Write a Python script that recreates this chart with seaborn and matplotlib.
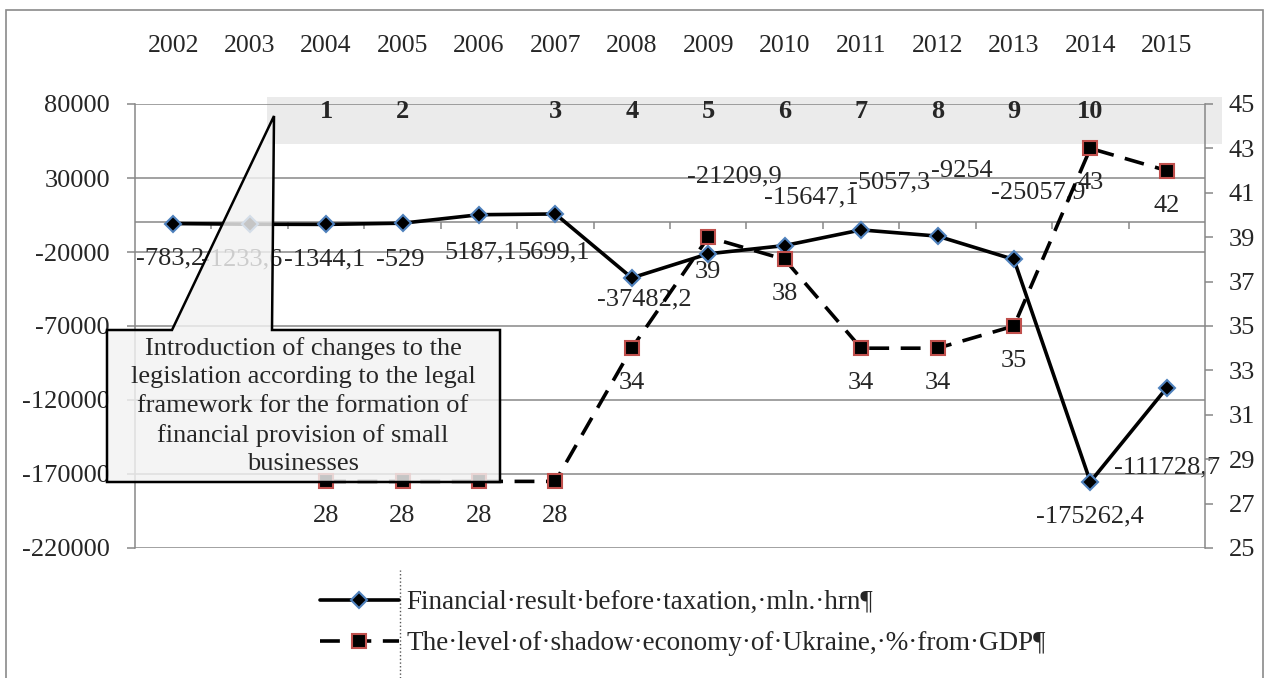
import numpy as np
import pandas as pd
import matplotlib
matplotlib.use("Agg")
import matplotlib.pyplot as plt
import matplotlib.transforms as mtransforms
from matplotlib.patches import Rectangle, Polygon
from matplotlib.lines import Line2D
import seaborn as sns

# ---------------- data ----------------
years = ["2002", "2003", "2004", "2005", "2006", "2007", "2008",
         "2009", "2010", "2011", "2012", "2013", "2014", "2015"]
financial_result = [-783.2, -1233.6, -1344.1, -529, 5187.1, 5699.1, -37482.2,
                    -21209.9, -15647.1, -5057.3, -9254, -25057.9, -175262.4, -111728.7]
shadow_economy = [None, None, 28, 28, 28, 28, 34, 39, 38, 34, 34, 35, 43, 42]
left_ticks = [80000, 30000, -20000, -70000, -120000, -170000, -220000]
right_ticks = [25, 27, 29, 31, 33, 35, 37, 39, 41, 43, 45]
period_years = ["2004", "2005", "2007", "2008", "2009", "2010", "2011", "2012", "2013", "2014"]
period_numbers = ["1", "2", "3", "4", "5", "6", "7", "8", "9", "10"]
callout_text = ("Introduction of changes to the\nlegislation according to the legal\n"
                "framework for the formation of\nfinancial provision of small\nbusinesses")
legend_labels = ["Financial\u00b7result\u00b7before\u00b7taxation,\u00b7mln.\u00b7hrn\u00b6",
                 "The\u00b7level\u00b7of\u00b7shadow\u00b7economy\u00b7of\u00b7Ukraine,\u00b7%\u00b7from\u00b7GDP\u00b6"]

# label offsets (pixels, x right / y down) -- styling only
fin_label_offsets = [(-3, 35), (-8, 35), (-1, 35), (-2, 37), (2, 38), (-2, 38), (13, 22),
                     (26, -77), (27, -48), (28, -47), (24, -65), (24, -67), (0, 35), (0, 80)]
shadow_label_offsets = [(0, 35)] * len(years)


def fmt(v):
    if float(v).is_integer():
        return str(int(v))
    return f"{v:.1f}".replace(".", ",")


# ---------------- style ----------------
sns.set_style("white")
plt.rcParams["font.family"] = ["Liberation Serif", "DejaVu Serif"]

W, H = 1269, 678
GRAY = "#878787"
fig = plt.figure(figsize=(W / 100, H / 100), dpi=100)
ax = fig.add_axes([135 / W, (H - 548) / H, (1205 - 135) / W, (548 - 104) / H])
ax2 = ax.twinx()

n = len(years)
df = pd.DataFrame({"pos": np.arange(n), "year": years,
                   "fin": financial_result,
                   "shadow": pd.array(shadow_economy, dtype="Float64").astype(float)})

sns.lineplot(data=df, x="pos", y="fin", ax=ax, color="black", lw=2.6,
             marker="D", ms=8, mfc="black", mec="#4F81BD", mew=1.5, zorder=3, legend=False)
fin_line = ax.lines[-1]

df_sh = df.dropna(subset=["shadow"])
sns.lineplot(data=df_sh, x="pos", y="shadow", ax=ax2, color="black", lw=2.6,
             marker="s", ms=10.5, mfc="black", mec="#C0504D", mew=1.5, zorder=3, legend=False)
sh_line = ax2.lines[-1]
sh_line.set_linestyle((0, (5.5, 3.2)))

# axes ranges
ax.set_xlim(-0.5, n - 0.5)
ax.set_ylim(-220000, 80000)
ax.set_yticks(left_ticks)
ax.set_yticklabels([str(t) for t in left_ticks])
ax2.set_ylim(25, 45)
ax2.set_yticks(right_ticks)
ax2.set_yticklabels([str(t) for t in right_ticks])

ax.set_xticks(np.arange(n))
ax.set_xticklabels(years)
ax.xaxis.set_ticks_position("top")
ax.tick_params(axis="x", length=0, pad=34, labelsize=18.5)
ax.set_xlabel("")
ax.set_ylabel("")
ax2.set_ylabel("")

ax.grid(axis="y", color=GRAY, lw=1.1)
ax.grid(axis="x", visible=False)
ax.set_axisbelow(True)
for s in ["top", "bottom", "right"]:
    ax.spines[s].set_visible(False)
for s in ["top", "bottom", "left"]:
    ax2.spines[s].set_visible(False)
ax.spines["left"].set_color(GRAY)
ax.spines["left"].set_linewidth(1.1)
ax2.spines["right"].set_color(GRAY)
ax2.spines["right"].set_linewidth(1.1)
ax.tick_params(axis="y", direction="out", length=6, width=1.1, color=GRAY, pad=12, labelsize=19)
ax2.tick_params(axis="y", direction="out", length=6, width=1.1, color=GRAY, pad=11, labelsize=19)

# category axis line at zero with boundary ticks
ax.axhline(0, color=GRAY, lw=1.1, zorder=1)
bounds = np.arange(n - 1) + 0.5
ax.plot(bounds, np.zeros_like(bounds), ls="none", marker=3, ms=5, mew=1.1, color=GRAY, zorder=1)

# shaded band with period numbers
band = Rectangle((267 / W, 1 - 144 / H), (1222 - 267) / W, 47 / H, transform=fig.transFigure,
                 fc="#ebebeb", ec="none", zorder=0.2, clip_on=False)
ax.add_patch(band)
btrans = mtransforms.blended_transform_factory(ax.transData, ax.transAxes)
for yr, num in zip(period_years, period_numbers):
    ax.text(years.index(yr), 0.982, num, transform=btrans, ha="center", va="center",
            fontsize=19, fontweight="bold", zorder=4)

# data labels
for i, v in enumerate(financial_result):
    dx, dy = fin_label_offsets[i]
    ax.annotate(fmt(v), (i, v), xytext=(dx * 0.72, -dy * 0.72), textcoords="offset points",
                ha="center", va="center", fontsize=19, zorder=5)
for i, v in enumerate(shadow_economy):
    if v is None:
        continue
    dx, dy = shadow_label_offsets[i]
    ax2.annotate(fmt(v), (i, v), xytext=(dx * 0.72, -dy * 0.72), textcoords="offset points",
                 ha="center", va="center", fontsize=19, zorder=5)

# callout
verts_px = [(107, 330), (172, 330), (274, 116), (272, 330), (500, 330), (500, 482), (107, 482)]
verts = [(x / W, 1 - y / H) for x, y in verts_px]
call = Polygon(verts, closed=True, transform=fig.transFigure, fc=(0.95, 0.95, 0.95, 0.82),
               ec="black", lw=1.8, zorder=10, clip_on=False, joinstyle="miter")
ax2.add_patch(call)
ax2.text(303 / W, 1 - 406 / H, callout_text, transform=fig.transFigure, ha="center", va="center",
         fontsize=19, zorder=11, linespacing=1.38)

# legend
fig.legend([fin_line, sh_line], legend_labels, loc="upper left",
           bbox_to_anchor=(320 / W, 1 - 590 / H), frameon=False, fontsize=19.5,
           handlelength=2.9, handletextpad=0.3, labelspacing=0.6, borderpad=0, borderaxespad=0)

# outer frame and cursor line
fig.add_artist(Rectangle((6 / W, -0.05), (1263 - 6) / W, 1 - 10 / H + 0.05, fill=False,
                         ec="#8a8a8a", lw=1.2, transform=fig.transFigure))
fig.add_artist(Line2D([400 / W, 400 / W], [0, 1 - 570 / H], ls=":", color="#555555", lw=1,
                      transform=fig.transFigure))

fig.savefig("out.png", dpi=100)
